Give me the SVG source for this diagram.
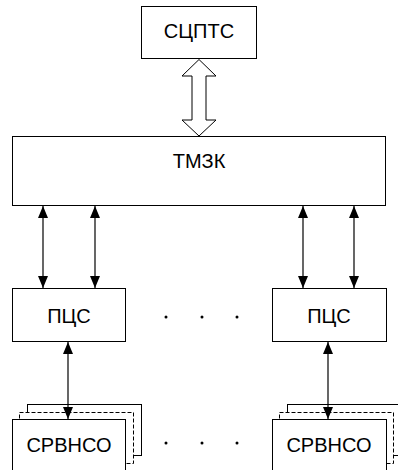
<svg xmlns="http://www.w3.org/2000/svg" width="398" height="470" viewBox="0 0 398 470">
<style>
.box{fill:#fff;stroke:#000;stroke-width:1}
.dash{fill:#fff;stroke:#000;stroke-width:1;stroke-dasharray:4 2}
.t{font-family:"Liberation Sans",Arial,sans-serif;font-size:20px;fill:#000;text-anchor:middle}
.c{stroke:#000;stroke-width:1.2;fill:none}
</style>
<defs>
<marker id="ah" viewBox="0 0 12 10" refX="12" refY="5" markerWidth="12" markerHeight="10" markerUnits="userSpaceOnUse" orient="auto-start-reverse">
<path d="M0,0 L12,5 L0,10 Z" fill="#000"/>
</marker>
</defs>
<rect width="398" height="470" fill="#fff"/>
<g id="sptc"><rect class="box" x="141.5" y="6.5" width="115" height="52"/><text class="t" x="199" y="38">СЦПТС</text></g>
<g id="tmzk"><rect class="box" x="12.5" y="136.5" width="373" height="69"/><text class="t" x="199" y="168">ТМЗК</text></g>
<g id="pcs1"><rect class="box" x="12.5" y="288.5" width="113" height="53"/><text class="t" x="69" y="323">ПЦС</text></g>
<g id="pcs2"><rect class="box" x="272.5" y="288.5" width="114" height="53"/><text class="t" x="329" y="323">ПЦС</text></g>
<g id="srv1">
<rect class="box" x="27.5" y="404.5" width="114" height="51"/>
<rect class="dash" x="19.5" y="412.5" width="114" height="51"/>
<rect class="box" x="12.5" y="419.5" width="113" height="60"/>
<text class="t" x="69" y="452">СРВНСО</text>
</g>
<g id="srv2">
<rect class="box" x="287.5" y="404.5" width="120" height="51"/>
<rect class="dash" x="279.5" y="412.5" width="114" height="51"/>
<rect class="box" x="272.5" y="419.5" width="114" height="60"/>
<text class="t" x="329" y="452">СРВНСО</text>
</g>
<g id="dots1" fill="#000"><circle cx="166" cy="317" r="1.5"/><circle cx="202" cy="317" r="1.5"/><circle cx="237" cy="317" r="1.5"/></g>
<g id="dots2" fill="#000"><circle cx="166" cy="443" r="1.5"/><circle cx="202" cy="443" r="1.5"/><circle cx="237" cy="443" r="1.5"/></g>
<g id="connectors">
<path d="M199,59.5 L216,76 L206,76 L206,120 L216,120 L199,136 L182,120 L192,120 L192,76 L182,76 Z" fill="#fff" stroke="#000" stroke-width="1"/>
<line class="c" x1="43" y1="206" x2="43" y2="288" marker-start="url(#ah)" marker-end="url(#ah)"/>
<line class="c" x1="95" y1="206" x2="95" y2="288" marker-start="url(#ah)" marker-end="url(#ah)"/>
<line class="c" x1="303" y1="206" x2="303" y2="288" marker-start="url(#ah)" marker-end="url(#ah)"/>
<line class="c" x1="354" y1="206" x2="354" y2="288" marker-start="url(#ah)" marker-end="url(#ah)"/>
<line class="c" x1="68" y1="342" x2="68" y2="419" marker-start="url(#ah)" marker-end="url(#ah)"/>
<line class="c" x1="328" y1="342" x2="328" y2="419" marker-start="url(#ah)" marker-end="url(#ah)"/>
</g>
</svg>
